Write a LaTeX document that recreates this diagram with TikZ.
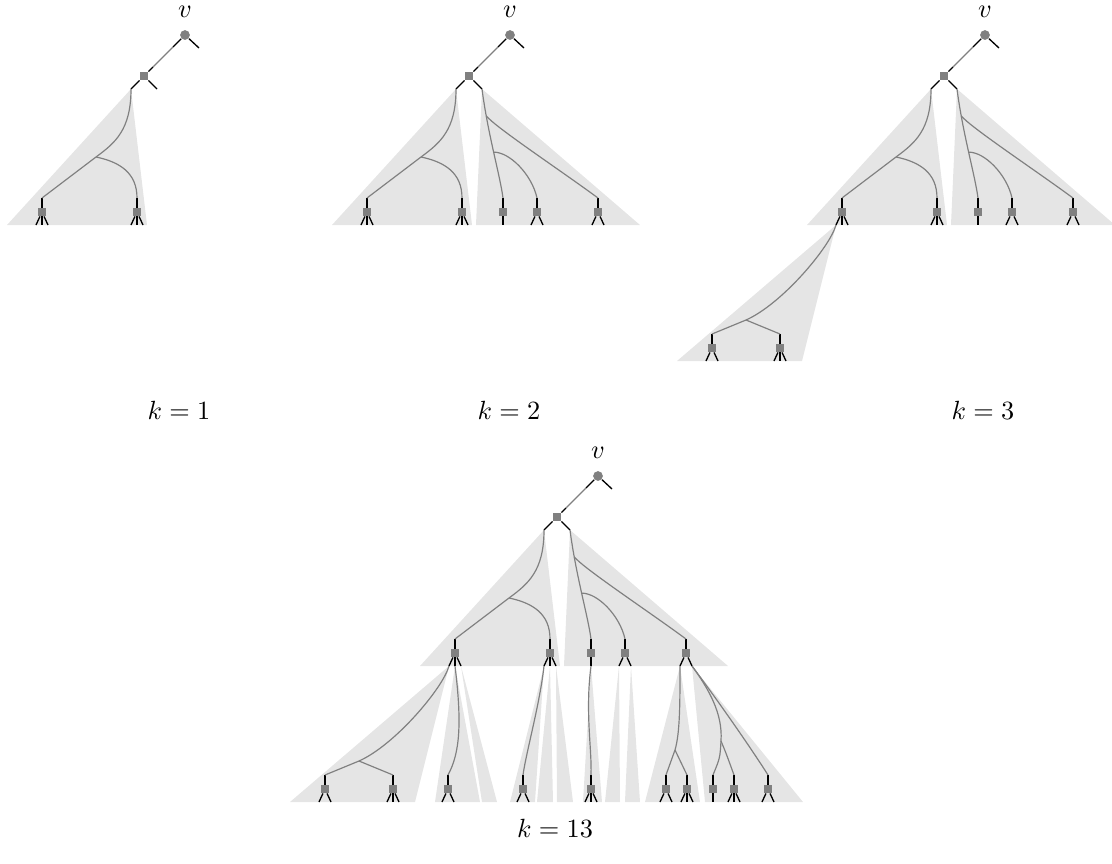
\documentclass[tikz,border=0pt]{standalone}
\usetikzlibrary{positioning}

\tikzset{
  dot/.style={circle, fill=gray, inner sep=0pt, minimum size=3.7pt},
  box/.style={rectangle, fill=gray, inner sep=0pt, minimum size=3pt},
  stub/.style={black, line width=0.5pt},
  trail/.style={black!50, line width=0.45pt},
  cone/.style={fill=gray!20}
}

% square vertex: name, position, leg offsets
\newcommand\sqnode[3]{%
  \node[box] (#1) at (#2) {};
  \draw[stub] (#1) -- ++(0,-14) coordinate (#1-t);
  \foreach \d [count=\i] in {#3} \draw[stub] (#1) -- ++(\d,13) coordinate (#1-\i);
}

% root v and the first square
\newcommand\headpart[3]{%
  \begin{scope}[shift={(#2,#3)}]
    \node[dot] (#1v) at (0,0) {};
    \node[above=1pt of #1v] (#1vl) {$v$};
    \node[box] (#1s) at (-41,41) {};
    \coordinate (#1vr) at (14,13);
    \coordinate (#1a1) at (-12,12);
    \coordinate (#1a2) at (-32,32);
    \coordinate (#1sl) at (-54,54);
    \coordinate (#1sr) at (-28,54);
    \draw[stub] (#1v) -- (#1vr);
    \draw[stub] (#1v) -- (#1a1);
    \draw[trail] (#1a1) -- (#1a2);
    \draw[stub] (#1a2) -- (#1s);
    \draw[stub] (#1s) -- (#1sl);
    \draw[stub] (#1s) -- (#1sr);
  \end{scope}}

\newcommand\leftpart[3]{%
  \begin{scope}[shift={(#2,#3)}]
    \fill[cone] (#1sl) -- (-178,190) -- (-38,190) -- cycle;
    \sqnode{#1l1}{-143,177}{-6,0,6}
    \sqnode{#1l2}{-48,177}{-6,0,6}
    \coordinate (#1bl) at (-89,122);
    \draw[trail] (#1sl) .. controls (-54,95) and (-70,108) .. (#1bl) -- (#1l1-t);
    \draw[trail] (#1bl) .. controls (-65,127) and (-48,138) .. (#1l2-t);
  \end{scope}}

\newcommand\rightpart[3]{%
  \begin{scope}[shift={(#2,#3)}]
    \fill[cone] (#1sr) -- (-34,190) -- (130,190) -- cycle;
    \sqnode{#1c}{-7,177}{0}
    \sqnode{#1d}{27,177}{-6,6}
    \sqnode{#1e}{88,177}{-6,6}
    \draw[trail] (#1sr) .. controls (-22,100) and (-10,140) .. (#1c-t)
      coordinate[pos=0.2] (#1be) coordinate[pos=0.5] (#1bd);
    \draw[trail] (#1be) .. controls (-15,92) and (50,135) .. (#1e-t);
    \draw[trail] (#1bd) .. controls (0,117) and (22,140) .. (#1d-t);
  \end{scope}}

% subtree hanging from the first leg of a square
\newcommand\deepcone[1]{%
  \begin{scope}[shift={(#1)}]
    \fill[cone] (#1-1) -- (-165,149) -- (-40,149) -- cycle;
    \sqnode{#1a}{-130,136}{-6,6}
    \sqnode{#1b}{-62,136}{-6,0,6}
    \coordinate (#1br) at (-96,108);
    \draw[trail] (#1-1) .. controls (-12,35) and (-60,92) .. (#1br) -- (#1a-t);
    \draw[trail] (#1br) -- (#1b-t);
  \end{scope}}

\begin{document}
\begin{tikzpicture}[x=0.38pt, y=-0.38pt]
  \useasboundingbox (0,0) rectangle (1112,864);

  % k = 1
  \headpart{a}{185}{35}
  \leftpart{a}{185}{35}
  \node (ka) at (179,410) {$k=1$};

  % k = 2
  \headpart{b}{510}{35}
  \leftpart{b}{510}{35}
  \rightpart{b}{510}{35}
  \node (kb) at (509,410) {$k=2$};

  % k = 3
  \headpart{c}{985}{35}
  \leftpart{c}{985}{35}
  \rightpart{c}{985}{35}
  \deepcone{cl1}
  \node (kc) at (983,410) {$k=3$};

  % k = 13
  \headpart{d}{598}{476}
  \leftpart{d}{598}{476}
  \rightpart{d}{598}{476}
  \deepcone{dl1}
  \begin{scope}[shift={(dl1)}]
    \fill[cone] (dl1-2) -- (-20,149) -- (25,149) -- cycle;
    \fill[cone] (dl1-3) -- (27,149) -- (42,149) -- cycle;
    \sqnode{dq3}{-7,136}{-6,6}
    \draw[trail] (dl1-2) .. controls (7,70) and (5,100) .. (dq3-t);
  \end{scope}
  \begin{scope}[shift={(dl2)}]
    \fill[cone] (dl2-1) -- (-40,149) -- (-15,149) -- cycle;
    \fill[cone] (dl2-2) -- (-13,149) -- (3,149) -- cycle;
    \fill[cone] (dl2-3) -- (7,149) -- (23,149) -- cycle;
    \sqnode{dq4}{-27,136}{-6,6}
    \draw[trail] (dl2-1) .. controls (-10,50) and (-24,100) .. (dq4-t);
  \end{scope}
  \begin{scope}[shift={(dc)}]
    \fill[cone] (dc-1) -- (-8,149) -- (11,149) -- cycle;
    \sqnode{dq5}{0,136}{-6,0,6}
    \draw[trail] (dc-1) .. controls (-6,60) and (1,95) .. (dq5-t);
  \end{scope}
  \begin{scope}[shift={(dd)}]
    \fill[cone] (dd-1) -- (-20,149) -- (-5,149) -- cycle;
    \fill[cone] (dd-2) -- (0,149) -- (15,149) -- cycle;
  \end{scope}
  \begin{scope}[shift={(de)}]
    \fill[cone] (de-1) -- (-41,149) -- (14,149) -- cycle;
    \fill[cone] (de-2) -- (19,149) -- (117,149) -- cycle;
    \sqnode{dq6}{-20,136}{-6,6}
    \sqnode{dq7}{1,136}{-6,0,6}
    \sqnode{dq8}{27,136}{0}
    \sqnode{dq9}{48,136}{-6,0,6}
    \sqnode{dq10}{82,136}{-6,6}
    \coordinate (dbe1) at (-11,97);
    \coordinate (dbe2) at (35,88);
    \draw[trail] (de-1) .. controls (-6,50) and (-6,80) .. (dbe1) -- (dq6-t);
    \draw[trail] (dbe1) -- (dq7-t);
    \draw[trail] (de-2) .. controls (22,35) and (37,60) .. (dbe2)
      .. controls (34,105) .. (dq8-t);
    \draw[trail] (dbe2) .. controls (40,100) .. (dq9-t);
    \draw[trail] (de-2) .. controls (30,45) and (65,95) .. (dq10-t);
  \end{scope}
  \node (kd) at (555,828) {$k=13$};
\end{tikzpicture}
\end{document}
